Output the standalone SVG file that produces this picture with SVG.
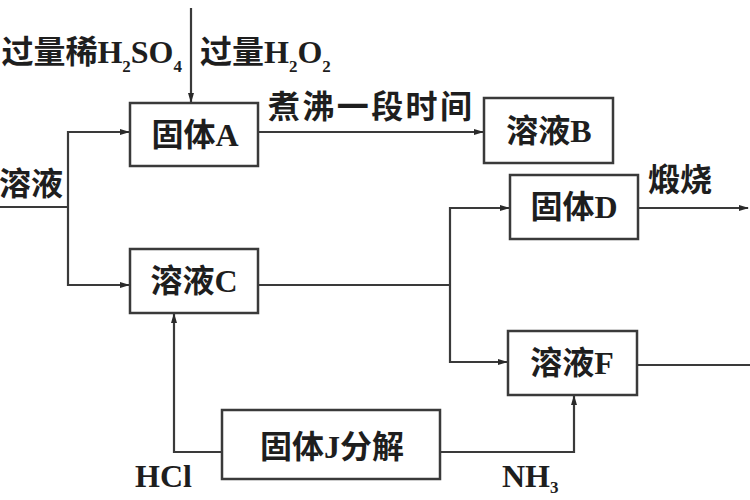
<svg xmlns="http://www.w3.org/2000/svg" width="750" height="500" viewBox="0 0 750 500">
<style>
.box{fill:#fff;stroke:#3a3a3a;stroke-width:2.5}
.ln{fill:none;stroke:#3a3a3a;stroke-width:2.2}
.t{font-family:"Liberation Serif","Noto Sans CJK SC",serif;font-weight:bold;font-size:32px;fill:#1e1e1e}
.c{text-anchor:middle}
.sub{font-size:17px}
</style>
<defs>
<marker id="ar" markerUnits="userSpaceOnUse" markerWidth="10" markerHeight="6" refX="9" refY="3" orient="auto">
<path d="M0,0 L10,3 L0,6 Z" fill="#2a2a2a"/>
</marker>
</defs>
<rect width="750" height="500" fill="#fff"/>
<g id="connectors">
<path class="ln" d="M191,8 V102" marker-end="url(#ar)"/>
<path class="ln" d="M0,207 H68"/>
<path class="ln" d="M68,207 V132 H129" marker-end="url(#ar)"/>
<path class="ln" d="M68,207 V285 H129" marker-end="url(#ar)"/>
<path class="ln" d="M258,132 H483" marker-end="url(#ar)"/>
<path class="ln" d="M258,285 H450"/>
<path class="ln" d="M450,285 V208 H509" marker-end="url(#ar)"/>
<path class="ln" d="M450,285 V362 H507" marker-end="url(#ar)"/>
<path class="ln" d="M638,208 H748" marker-end="url(#ar)"/>
<path class="ln" d="M637,365 H750"/>
<path class="ln" d="M222,452 H174 V314" marker-end="url(#ar)"/>
<path class="ln" d="M440,452 H574 V396" marker-end="url(#ar)"/>
</g>
<g id="labels">
<text class="t" x="182" y="63" text-anchor="end">过量稀H<tspan class="sub" dy="9">2</tspan><tspan dy="-9">SO</tspan><tspan class="sub" dy="9">4</tspan></text>
<text class="t" x="200" y="63">过量H<tspan class="sub" dy="9">2</tspan><tspan dy="-9">O</tspan><tspan class="sub" dy="9">2</tspan></text>
<text class="t" x="268" y="118" textLength="204" lengthAdjust="spacing">煮沸一段时间</text>
<text class="t" x="63" y="195" text-anchor="end">溶液</text>
<text class="t" x="648" y="191">煅烧</text>
<text class="t" x="135" y="487">HCl</text>
<text class="t" x="502" y="487">NH<tspan class="sub" dy="6">3</tspan></text>
</g>
<g id="nodeA"><rect class="box" x="130" y="103" width="128" height="63"/><text class="t c" x="195" y="146">固体A</text></g>
<g id="nodeB"><rect class="box" x="484" y="98" width="129" height="65"/><text class="t c" x="549" y="142">溶液B</text></g>
<g id="nodeC"><rect class="box" x="130" y="249" width="128" height="64"/><text class="t c" x="194" y="292">溶液C</text></g>
<g id="nodeD"><rect class="box" x="510" y="175" width="128" height="64"/><text class="t c" x="574" y="218">固体D</text></g>
<g id="nodeF"><rect class="box" x="508" y="331" width="129" height="64"/><text class="t c" x="572" y="374">溶液F</text></g>
<g id="nodeJ"><rect class="box" x="222" y="410" width="218" height="69"/><text class="t c" x="332" y="458">固体J分解</text></g>
</svg>
